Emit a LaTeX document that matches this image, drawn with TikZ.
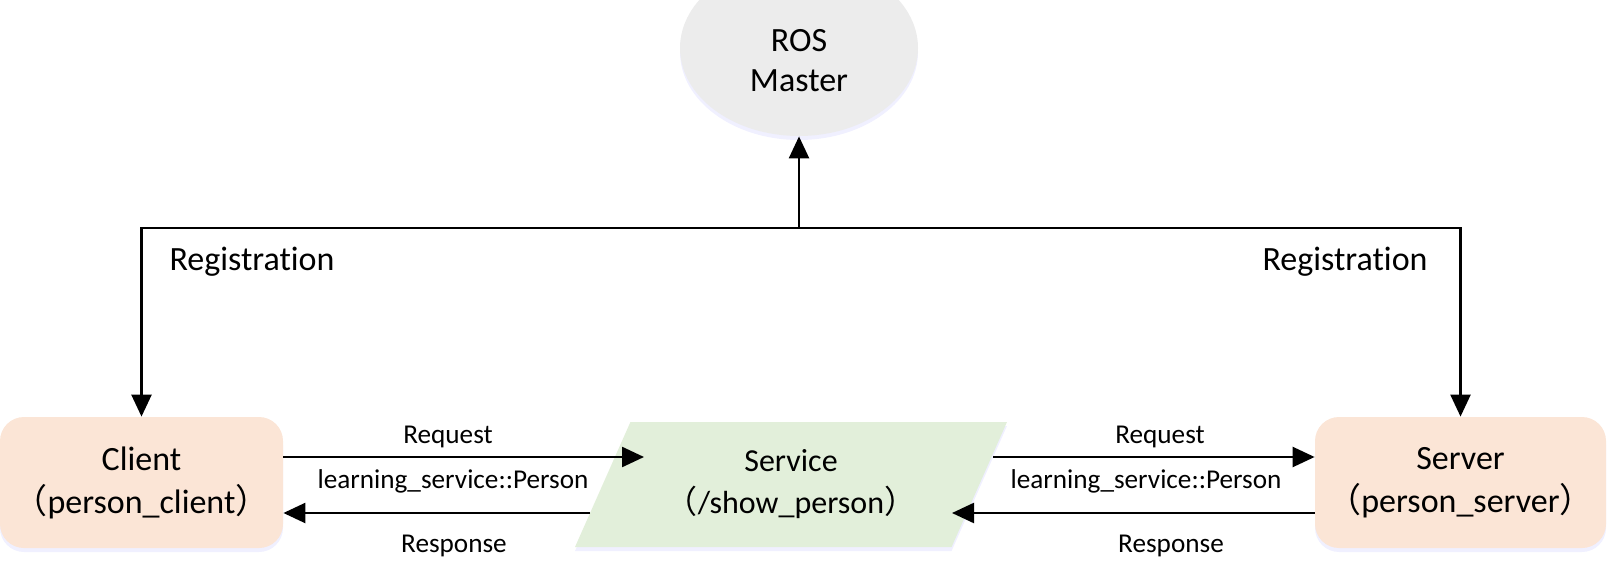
\documentclass[tikz,border=0pt]{standalone}
\usepackage{fontspec}
\setmainfont{Carlito}[Ligatures=NoCommon]
\newfontfamily\cjk{Noto Sans CJK SC}
\usepackage{tikz}
\usetikzlibrary{arrows.meta,shapes.geometric,shadows}
\newcommand{\zlp}{{\cjk （}}
\newcommand{\zrp}{{\cjk ）}}
\definecolor{nodepeach}{RGB}{251,229,214}
\definecolor{nodegreen}{RGB}{226,239,218}
\definecolor{nodegray}{RGB}{236,236,236}
\tikzstyle{every node}=[font=\fontsize{17}{21.5}\selectfont]
\tikzstyle{softshadow}=[drop shadow={shadow xshift=0pt, shadow yshift=-2pt, fill=blue!50, opacity=0.12}]
\tikzstyle{master}=[ellipse, fill=nodegray, minimum width=119pt, minimum height=88pt, inner sep=0pt, softshadow]
\tikzstyle{proc}=[rectangle, rounded corners=12pt, fill=nodepeach, minimum height=65.5pt, align=center, inner sep=0pt, softshadow]
\tikzstyle{service}=[trapezium, trapezium left angle=51.3, trapezium right angle=128.7, trapezium stretches body=true,
    fill=nodegreen, minimum width=216pt, minimum height=62.5pt, align=center, inner sep=0pt, outer sep=0pt, softshadow,
    font=\fontsize{16}{21}\selectfont]
\tikzstyle{lbl}=[font=\fontsize{13.6}{16}\selectfont, inner sep=0pt]
\tikzstyle{arr}=[-{Triangle[length=11pt,width=10pt]}, line width=1.2pt]

\begin{document}
\begin{tikzpicture}[x=0.5pt, y=-0.5pt]
    \useasboundingbox (0,0) rectangle (1615,566);

    % nodes
    \node[master] (master) at (799,48) {};
    \node[align=center, font=\fontsize{17}{20}\selectfont] (mastertxt) at (799,61) {ROS\\Master};
    \node[proc, minimum width=141.5pt] (client) at (141.5,482.5) {Client\\\zlp person\_client\zrp};
    \node[proc, minimum width=145.5pt] (server) at (1460.5,482.5) {Server\\\zlp person\_server\zrp};
    \node[service] (service) at (791,484.5) {Service\\\zlp/show\_person\zrp};

    % registration
    \coordinate (bus) at (799,228);
    \draw [arr] (bus) -- (master);
    \draw [arr] (bus) -| (client);
    \draw [arr] (bus) -| (server);
    \node (regl) at (252,262) {Registration};
    \node (regr) at (1345,262) {Registration};

    % request / response
    \coordinate (q1) at (644,457);
    \coordinate (p1) at (590,513);
    \coordinate (q2) at (993,457);
    \coordinate (p2) at (952,513);
    \draw [arr] (client.east |- q1) -- (q1);
    \draw [arr] (p1) -- (client.east |- p1);
    \draw [arr] (q2) -- (server.west |- q2);
    \draw [arr] (server.west |- p2) -- (p2);

    \node[lbl] (reql) at (448,437) {Request};
    \node[lbl] (typel) at (453,481) {learning\_service::Person};
    \node[lbl] (resl) at (454,546) {Response};
    \node[lbl] (reqr) at (1160,437) {Request};
    \node[lbl] (typer) at (1146,481) {learning\_service::Person};
    \node[lbl] (resr) at (1171,546) {Response};
\end{tikzpicture}
\end{document}
